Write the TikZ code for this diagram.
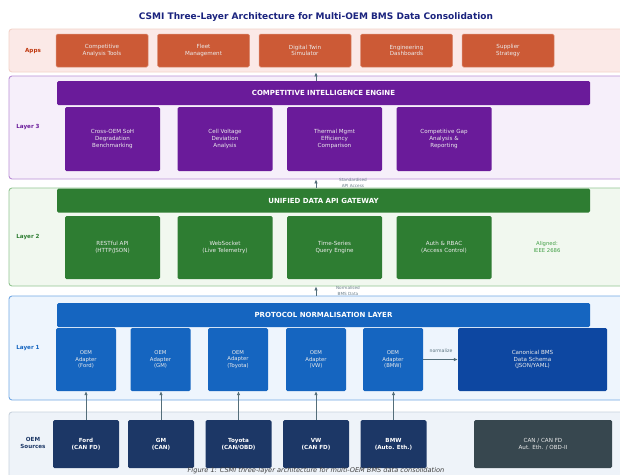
\documentclass[tikz,border=0pt]{standalone}
\usepackage{fontspec}
\setmainfont{DejaVu Sans}
\usetikzlibrary{arrows.meta}

\definecolor{titlenavy}{HTML}{1A237E}
\definecolor{appsfill}{HTML}{FBE9E7}
\definecolor{appsline}{HTML}{F3D3C9}
\definecolor{appsbox}{HTML}{CC5A36}
\definecolor{appslabel}{HTML}{BF360C}
\definecolor{lthreefill}{HTML}{F6EFFA}
\definecolor{lthreeline}{HTML}{BA8FD6}
\definecolor{lthreebox}{HTML}{6A1B9A}
\definecolor{ltwofill}{HTML}{F1F8EF}
\definecolor{ltwoline}{HTML}{93C593}
\definecolor{ltwobox}{HTML}{2E7D32}
\definecolor{ltwotext}{HTML}{43A047}
\definecolor{lonefill}{HTML}{EEF5FD}
\definecolor{loneline}{HTML}{74A9E4}
\definecolor{lonebox}{HTML}{1565C0}
\definecolor{canonbox}{HTML}{0D47A1}
\definecolor{srcfill}{HTML}{EEF3F9}
\definecolor{srcline}{HTML}{C9D3DD}
\definecolor{srcbox}{HTML}{1C3766}
\definecolor{busbox}{HTML}{37474F}
\definecolor{arrowgray}{HTML}{546E7A}
\definecolor{notegray}{HTML}{6B7F8A}

\begin{document}
\begin{tikzpicture}[x=1pt,y=-1pt,
  band/.style={rectangle, rounded corners=3pt, line width=0.9pt, inner sep=0pt,
    minimum width=621pt},
  bar/.style={rectangle, rounded corners=1.5pt, inner sep=0pt, minimum width=533pt,
    minimum height=24pt, text=white, font=\fontsize{7}{8}\selectfont\bfseries},
  box/.style={rectangle, rounded corners=1.5pt, inner sep=0pt, text=white!92!black,
    align=center, font=\fontsize{5.6}{6.7}\selectfont},
  appbox/.style={box, fill=appsbox, draw=appsbox!70!white, line width=0.5pt,
    minimum width=92pt, minimum height=33pt},
  lthreecell/.style={box, fill=lthreebox, minimum width=95pt, minimum height=64pt},
  ltwocell/.style={box, fill=ltwobox, minimum width=95pt, minimum height=63pt},
  adapter/.style={box, fill=lonebox, minimum width=60pt, minimum height=63pt,
    font=\fontsize{5.3}{6.4}\selectfont},
  source/.style={box, fill=srcbox, text=white, minimum width=66pt, minimum height=48pt,
    font=\fontsize{5.6}{6.7}\selectfont\bfseries},
  layerlabel/.style={align=center, inner sep=0pt, font=\fontsize{5.6}{6.7}\selectfont\bfseries},
  note/.style={align=center, inner sep=0pt, text=notegray, font=\fontsize{4.2}{6}\selectfont},
  arr/.style={draw=arrowgray, line width=0.9pt, -{Latex[length=4pt,width=3.6pt]}}
]
\useasboundingbox (0,0) rectangle (620,474);
\fill[white] (0,0) rectangle (620,474);

% title
\node[text=titlenavy, font=\fontsize{9}{10}\selectfont\bfseries] (title) at (316,17)
  {CSMI Three-Layer Architecture for Multi-OEM BMS Data Consolidation};

% layer bands
\node[band, fill=appsfill, draw=appsline, minimum height=43pt] (apps) at (319.5,50.5) {};
\node[band, fill=lthreefill, draw=lthreeline, minimum height=103pt] (lthree) at (319.5,127.5) {};
\node[band, fill=ltwofill, draw=ltwoline, minimum height=98pt] (ltwo) at (319.5,237) {};
\node[band, fill=lonefill, draw=loneline, minimum height=104pt] (lone) at (319.5,348) {};
\node[band, fill=srcfill, draw=srcline, minimum height=68pt] (src) at (319.5,446) {};

% band labels
\node[layerlabel, text=appslabel] (lapps) at (33,51) {Apps};
\node[layerlabel, text=lthreebox] (llthree) at (28,127) {Layer 3};
\node[layerlabel, text=ltwobox] (lltwo) at (28,237) {Layer 2};
\node[layerlabel, text=lonebox] (llone) at (28,348) {Layer 1};
\node[layerlabel, text=srcbox] (lsrc) at (33,443) {OEM\\Sources};

% applications
\node[appbox] (app1) at (102,50.5) {Competitive\\Analysis Tools};
\node[appbox] (app2) at (203.5,50.5) {Fleet\\Management};
\node[appbox] (app3) at (305,50.5) {Digital Twin\\Simulator};
\node[appbox] (app4) at (406.5,50.5) {Engineering\\Dashboards};
\node[appbox] (app5) at (508,50.5) {Supplier\\Strategy};

% layer 3
\node[bar, fill=lthreebox] (engine) at (323.5,93) {COMPETITIVE INTELLIGENCE ENGINE};
\node[lthreecell] (c1) at (112.5,139) {Cross-OEM SoH\\Degradation\\Benchmarking};
\node[lthreecell] (c2) at (225,139) {Cell Voltage\\Deviation\\Analysis};
\node[lthreecell] (c3) at (334.5,139) {Thermal Mgmt\\Efficiency\\Comparison};
\node[lthreecell] (c4) at (444,139) {Competitive Gap\\Analysis \&\\Reporting};

% layer 2
\node[bar, fill=ltwobox] (gateway) at (323.5,200.5) {UNIFIED DATA API GATEWAY};
\node[ltwocell] (g1) at (112.5,247.5) {RESTful API\\(HTTP/JSON)};
\node[ltwocell] (g2) at (225,247.5) {WebSocket\\(Live Telemetry)};
\node[ltwocell] (g3) at (334.5,247.5) {Time-Series\\Query Engine};
\node[ltwocell] (g4) at (444,247.5) {Auth \& RBAC\\(Access Control)};
\node[align=center, inner sep=0pt, text=ltwotext, font=\fontsize{5.3}{6.4}\selectfont]
  (ieee) at (547,247) {Aligned:\\IEEE 2686};

% layer 1
\node[bar, fill=lonebox] (protocol) at (323.5,315) {PROTOCOL NORMALISATION LAYER};
\node[adapter] (aford) at (86,359.5) {OEM\\Adapter\\(Ford)};
\node[adapter] (agm) at (160.5,359.5) {OEM\\Adapter\\(GM)};
\node[adapter] (atoyota) at (238,359.5) {OEM\\Adapter\\(Toyota)};
\node[adapter] (avw) at (316,359.5) {OEM\\Adapter\\(VW)};
\node[adapter] (abmw) at (393,359.5) {OEM\\Adapter\\(BMW)};
\node[box, fill=canonbox, minimum width=149pt, minimum height=63pt] (canon) at (532.5,359.5)
  {Canonical BMS\\Data Schema\\(JSON/YAML)};

% OEM sources
\node[source] (sford) at (86,444) {Ford\\(CAN FD)};
\node[source] (sgm) at (161,444) {GM\\(CAN)};
\node[source] (stoyota) at (238.5,444) {Toyota\\(CAN/OBD)};
\node[source] (svw) at (316,444) {VW\\(CAN FD)};
\node[source] (sbmw) at (393.5,444) {BMW\\(Auto. Eth.)};
\node[box, fill=busbox, minimum width=138pt, minimum height=48pt] (bus) at (543,444)
  {CAN / CAN FD\\Aut. Eth. / OBD-II};

% data flow between layers
\coordinate (spine) at (316,0);
\draw[arr] (engine.north -| spine) -- (apps.south -| spine);
\draw[arr] (ltwo.north -| spine) -- (lthree.south -| spine);
\draw[arr] (lone.north -| spine) -- (ltwo.south -| spine);
\node[note] (napi) at (353,183) {Standardised\\API Access};
\node[note] (nbms) at (348,290.5) {Normalised\\BMS Data};

% sources feeding adapters
\draw[arr] (sford.north) -- (sford.north |- aford.south);
\draw[arr] (sgm.north) -- (sgm.north |- agm.south);
\draw[arr] (stoyota.north) -- (stoyota.north |- atoyota.south);
\draw[arr] (svw.north) -- (svw.north |- avw.south);
\draw[arr] (sbmw.north) -- (sbmw.north |- abmw.south);

% adapter output into the canonical schema
\draw[arr] (abmw.east) -- (canon.west);
\node[note, text=arrowgray, font=\fontsize{4.6}{6}\selectfont] (nnorm) at (441,351) {normalize};

% caption
\node[anchor=north, inner sep=0pt, text=black!75, font=\fontsize{6.6}{7}\selectfont\itshape]
  (caption) at (316,467)
  {Figure 1: CSMI three-layer architecture for multi-OEM BMS data consolidation};
\end{tikzpicture}
\end{document}
